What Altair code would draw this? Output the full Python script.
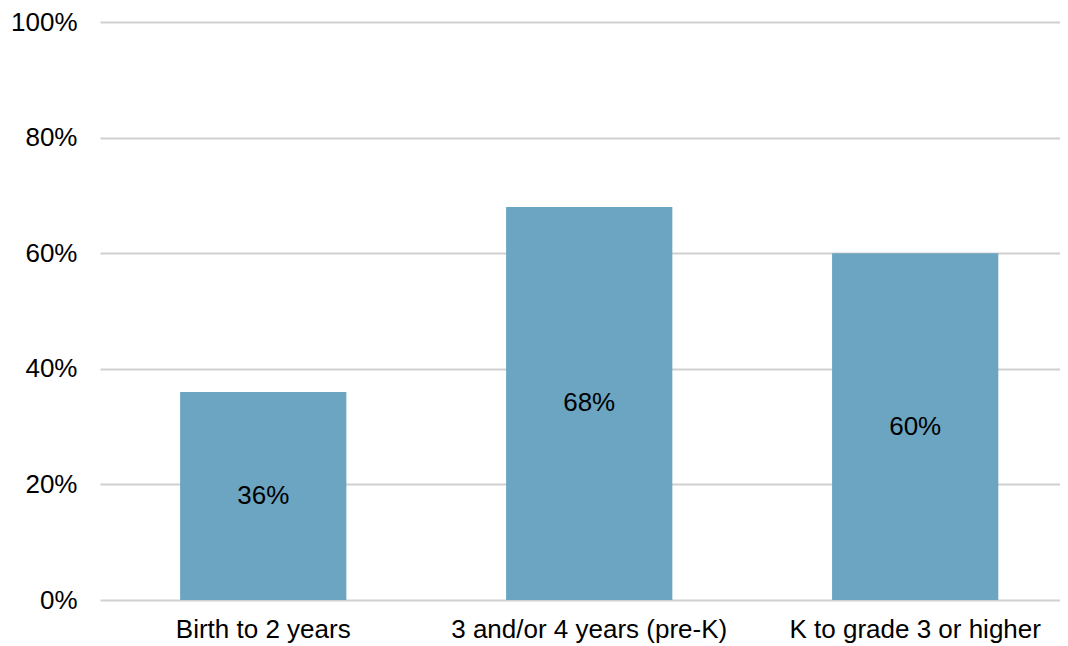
import altair as alt
import pandas as pd

categories = ["Birth to 2 years", "3 and/or 4 years (pre-K)", "K to grade 3 or higher"]
values = [0.36, 0.68, 0.60]

df = pd.DataFrame({"cat": categories, "val": values})
df["mid"] = df["val"] / 2
df["label"] = [f"{round(v*100)}%" for v in values]

FONT = "Liberation Sans"
FS = 26

x = alt.X("cat:N", sort=categories, title=None,
          scale=alt.Scale(paddingInner=0.49, paddingOuter=0.2175, align=0.565),
          axis=alt.Axis(labelAngle=0, labelFontSize=FS, labelFont=FONT, labelColor="#000000",
                        labelPadding=16, labelLimit=400, ticks=False, domain=False, grid=False))

bars = alt.Chart(df).mark_bar(color="#6BA5C2").encode(
    x=x,
    y=alt.Y("val:Q", title=None,
            scale=alt.Scale(domain=[0, 1], nice=False),
            axis=alt.Axis(format=".0%", values=[0, 0.2, 0.4, 0.6, 0.8, 1.0],
                          labelFontSize=FS, labelFont=FONT, labelColor="#000000",
                          labelPadding=23, ticks=False, domain=False,
                          grid=True, gridColor="#D0D0D0", gridWidth=2)),
)

text = alt.Chart(df).mark_text(fontSize=FS, font=FONT, color="#000000").encode(
    x=alt.X("cat:N", sort=categories),
    y=alt.Y("mid:Q"),
    text="label:N",
)

chart = alt.layer(bars, text).properties(
    width=960, height=578,
    autosize=alt.AutoSizeParams(type="none"),
    padding={"left": 92, "top": 14, "right": 0, "bottom": 46},
).configure_view(stroke=None)

chart.save("out.html", embed_options={"renderer": "svg", "actions": False})
